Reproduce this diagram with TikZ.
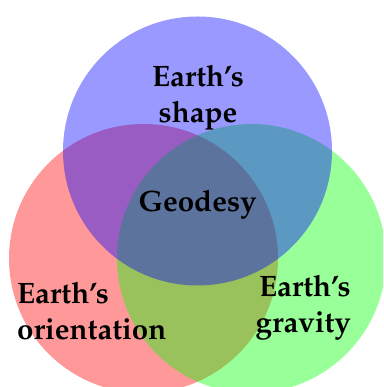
\documentclass[tikz,border=0pt]{standalone}
\usepackage[T1]{fontenc}
\usepackage{mathpazo}
\usepackage{tikz}

\begin{document}
\begin{tikzpicture}[x=1pt, y=1pt,
    set/.style={fill opacity=0.4},
    lbl/.style={font=\fontsize{29.5}{36.5}\selectfont\bfseries, inner sep=0pt}]
    \useasboundingbox (0,0) rectangle (383,387);
    \clip (0,0) rectangle (383,387);
    \fill[set, red] (143.5,128.5) circle (134.5);
    \fill[set, green] (251.5,128.5) circle (134.5);
    \fill[set, blue] (197.5,236) circle (134.5);
    \node[lbl, align=center, anchor=base] (shape) at (198,264) {Earth's\\shape};
    \node[lbl, anchor=base] (geodesy) at (197.5,175) {Geodesy};
    \node[lbl, align=left, anchor=base west] (orient) at (17,47) {Earth's\\orientation};
    \node[lbl, align=right, anchor=base east] (gravity) at (351,54) {Earth's\\gravity};
\end{tikzpicture}
\end{document}
